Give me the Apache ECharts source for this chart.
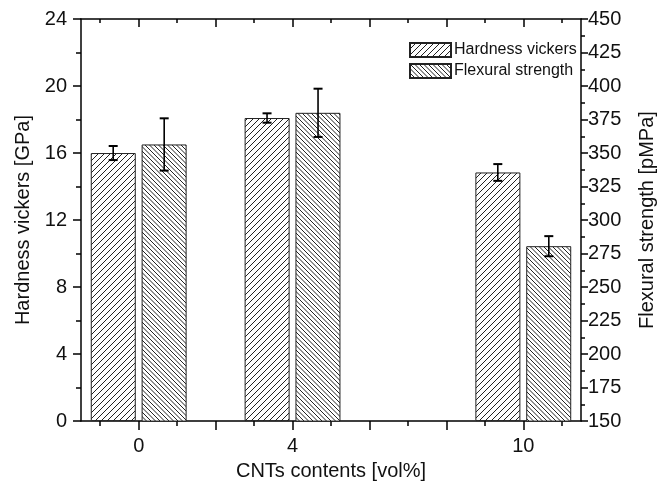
<!DOCTYPE html>
<html>
<head>
<meta charset="utf-8">
<script src="https://cdn.jsdelivr.net/npm/echarts@6/dist/echarts.min.js"></script>
<style>
  html, body { margin: 0; padding: 0; background: #fff; }
  #chart { width: 668px; height: 486px; }
</style>
</head>
<body>
<div id="chart"></div>
<script>
// data
const cntContents = [0, 4, 10]
const hardness = [16.0, 18.09, 14.84]
const hardnessErr = [0.42, 0.28, 0.5]
const flexural = [356.4, 380.0, 280.5]
const flexuralErr = [19.5, 18.0, 7.5]

// x tick positions / labels
const xLabelValues = [0, 4, 10]
const xMajorTicks = [0, 2, 4, 6, 8, 10]
const xMinorTicks = [-1, 1, 3, 5, 7, 9, 11]

const FONT = '"Liberation Sans", Arial, sans-serif'
const INK = '#111'

// hatch pattern tile; dir 1 = '/', -1 = '\'
function hatch(size, step, dir) {
  const c = document.createElement('canvas')
  c.width = size
  c.height = size
  const ctx = c.getContext('2d')
  ctx.fillStyle = '#fff'
  ctx.fillRect(0, 0, size, size)
  ctx.strokeStyle = '#222'
  ctx.lineWidth = 1
  ctx.beginPath()
  for (let k = -size; k <= 2 * size; k += step) {
    if (dir > 0) {
      ctx.moveTo(k + 1, -1)
      ctx.lineTo(k - size - 1, size + 1)
    } else {
      ctx.moveTo(-1, k - 1)
      ctx.lineTo(size + 1, k + size + 1)
    }
  }
  ctx.stroke()
  return c
}

const hardPattern = { image: hatch(6, 6, 1), repeat: 'repeat' }
const flexPattern = { image: hatch(9, 4.5, -1), repeat: 'repeat' }

function errorBars(offset, capHalf) {
  return function (params, api) {
    const x = api.value(0)
    const top = api.coord([x, api.value(2)])
    const bot = api.coord([x, api.value(1)])
    const cx = top[0] + offset
    const cap = { stroke: '#000', lineWidth: 2 }
    return {
      type: 'group',
      children: [
        { type: 'line', shape: { x1: cx, y1: top[1], x2: cx, y2: bot[1] }, style: { stroke: '#000', lineWidth: 1.6 } },
        { type: 'line', shape: { x1: cx - capHalf, y1: top[1], x2: cx + capHalf, y2: top[1] }, style: cap },
        { type: 'line', shape: { x1: cx - capHalf, y1: bot[1], x2: cx + capHalf, y2: bot[1] }, style: cap },
      ],
    }
  }
}

const xBase = {
  type: 'value',
  min: -1.5,
  max: 11.5,
  splitLine: { show: false },
}
const axisLineStyle = { color: '#000', width: 1.5 }

const chart = echarts.init(document.getElementById('chart'))
chart.setOption({
  animation: false,
  textStyle: { fontFamily: FONT },
  grid: { left: 81, right: 87, top: 19, bottom: 60 },
  legend: {
    data: ['Hardness vickers', 'Flexural strength'],
    orient: 'vertical',
    left: 404,
    top: 37,
    itemWidth: 41,
    itemHeight: 14,
    itemGap: 5,
    icon: 'rect',
    textStyle: { fontSize: 16, color: INK, padding: [0, 0, 0, -2] },
  },
  xAxis: [
    {
      ...xBase,
      position: 'bottom',
      axisLine: { onZero: false, lineStyle: axisLineStyle },
      axisTick: { customValues: xMajorTicks, length: 9, lineStyle: axisLineStyle },
      axisLabel: { customValues: xLabelValues, fontSize: 20, color: INK, margin: 15 },
      name: 'CNTs contents [vol%]',
      nameLocation: 'middle',
      nameGap: 31,
      nameTextStyle: { fontSize: 20, color: INK },
    },
    {
      ...xBase,
      position: 'bottom',
      axisLine: { show: false, onZero: false },
      axisTick: { customValues: xMinorTicks, length: 5, lineStyle: axisLineStyle },
      axisLabel: { show: false },
    },
    {
      ...xBase,
      position: 'top',
      axisLine: { onZero: false, lineStyle: axisLineStyle },
      axisTick: { inside: true, customValues: xMajorTicks, length: 8, lineStyle: axisLineStyle },
      axisLabel: { show: false },
    },
    {
      ...xBase,
      position: 'top',
      axisLine: { show: false, onZero: false },
      axisTick: { inside: true, customValues: xMinorTicks, length: 4, lineStyle: axisLineStyle },
      axisLabel: { show: false },
    },
  ],
  yAxis: [
    {
      type: 'value',
      position: 'left',
      min: 0,
      max: 24,
      interval: 4,
      splitLine: { show: false },
      axisLine: { show: true, onZero: false, lineStyle: axisLineStyle },
      axisTick: { show: true, length: 8, lineStyle: axisLineStyle },
      minorTick: { show: true, splitNumber: 2, length: 5, lineStyle: axisLineStyle },
      axisLabel: { fontSize: 20, color: INK, margin: 14 },
      name: 'Hardness vickers [GPa]',
      nameLocation: 'middle',
      nameGap: 46,
      nameTextStyle: { fontSize: 20, color: INK },
    },
    {
      type: 'value',
      position: 'right',
      min: 150,
      max: 450,
      interval: 25,
      splitLine: { show: false },
      axisLine: { show: true, onZero: false, lineStyle: axisLineStyle },
      axisTick: { show: true, length: 7, lineStyle: axisLineStyle },
      minorTick: { show: true, splitNumber: 2, length: 4, lineStyle: axisLineStyle },
      axisLabel: { fontSize: 20, color: INK, margin: 7 },
      name: 'Flexural strength [pMPa]',
      nameLocation: 'middle',
      nameGap: 56,
      nameTextStyle: { fontSize: 20, color: INK },
    },
  ],
  series: [
    {
      name: 'Hardness vickers',
      type: 'bar',
      xAxisIndex: 0,
      yAxisIndex: 0,
      barWidth: 45,
      barGap: '13%',
      data: cntContents.map((x, i) => [x, hardness[i]]),
      itemStyle: { color: hardPattern, borderColor: '#222', borderWidth: 1 },
    },
    {
      name: 'Flexural strength',
      type: 'bar',
      xAxisIndex: 0,
      yAxisIndex: 1,
      barWidth: 45,
      barGap: '13%',
      data: cntContents.map((x, i) => [x, flexural[i]]),
      itemStyle: { color: flexPattern, borderColor: '#222', borderWidth: 1 },
    },
    {
      type: 'custom',
      xAxisIndex: 0,
      yAxisIndex: 0,
      z: 5,
      renderItem: errorBars(-25.5, 4.5),
      encode: { x: 0, y: [1, 2] },
      data: cntContents.map((x, i) => [x, hardness[i] - hardnessErr[i], hardness[i] + hardnessErr[i]]),
    },
    {
      type: 'custom',
      xAxisIndex: 0,
      yAxisIndex: 1,
      z: 5,
      renderItem: errorBars(25.5, 4.5),
      encode: { x: 0, y: [1, 2] },
      data: cntContents.map((x, i) => [x, flexural[i] - flexuralErr[i], flexural[i] + flexuralErr[i]]),
    },
  ],
})
</script>
</body>
</html>
